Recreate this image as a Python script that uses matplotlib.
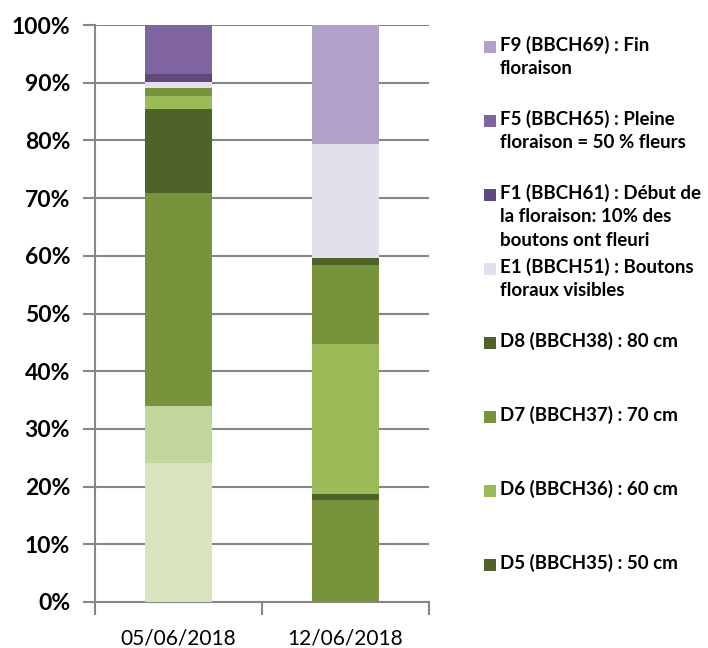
import matplotlib.pyplot as plt
import numpy as np
from matplotlib.patches import Rectangle

plt.rcParams['font.family'] = ['Lato', 'DejaVu Sans']

dates = ['05/06/2018', '12/06/2018']

# % de plantes par stade
d2 = [24.1, 0.0]
d3 = [9.9, 0.0]
d4 = [36.9, 17.6]
d5 = [14.5, 1.1]
d6 = [2.3, 26.0]
d7 = [1.4, 13.7]
d8 = [0.0, 1.2]
e1 = [1.1, 19.8]
f1 = [1.3, 0.0]
f5 = [8.5, 0.0]
f9 = [0.0, 20.6]

series = [d2, d3, d4, d5, d6, d7, d8, e1, f1, f5, f9]
labels = ['D2 (BBCH32) : 20 cm', 'D3 (BBCH33) : 30 cm', 'D4 (BBCH34) : 40 cm',
          'D5 (BBCH35) : 50 cm', 'D6 (BBCH36) : 60 cm', 'D7 (BBCH37) : 70 cm',
          'D8 (BBCH38) : 80 cm', 'E1 (BBCH51) : Boutons\nfloraux visibles',
          'F1 (BBCH61) : Début de\nla floraison: 10% des\nboutons ont fleuri',
          'F5 (BBCH65) : Pleine\nfloraison = 50 % fleurs',
          'F9 (BBCH69) : Fin\nfloraison']
colors = ['#D7E4BD', '#C3D69B', '#77933C', '#4F6228', '#9BBB59', '#77933C',
          '#4F6228', '#E4DFEC', '#604A7B', '#8064A2', '#B1A0C7']
# seules les 8 dernieres series apparaissent dans la legende
shown = labels[3:]

W, H = 708, 648
fig = plt.figure(figsize=(W / 100, H / 100), dpi=100)
ax = fig.add_axes([95 / W, 1 - 602 / H, (429 - 95) / W, (602 - 25) / H])

x = np.arange(len(dates))
bottom = np.zeros(len(dates))
for vals, c in zip(series, colors):
    ax.bar(x, vals, width=0.4, bottom=bottom, color=c, linewidth=0, zorder=3)
    bottom += np.array(vals)

ax.set_xlim(-0.5, 1.5)
ax.set_ylim(0, 100)
ax.set_yticks(np.arange(0, 101, 10))
ax.set_yticklabels(['%d%%' % v for v in range(0, 101, 10)],
                   fontsize=16.5, fontweight='bold')
ax.yaxis.grid(True, color='#868686', linewidth=1.5, zorder=0)
ax.tick_params(axis='y', length=9, width=1.5, color='#868686', pad=9)

ax.set_xticks([-0.5, 0.5, 1.5])
ax.set_xticklabels([])
ax.set_xticks(x, minor=True)
ax.set_xticklabels(dates, minor=True, fontsize=15)
ax.tick_params(axis='x', which='major', length=9, width=1.5, color='#868686')
ax.tick_params(axis='x', which='minor', length=0, pad=19)

for s in ['top', 'right']:
    ax.spines[s].set_visible(False)
for s in ['left', 'bottom']:
    ax.spines[s].set_color('#868686')
    ax.spines[s].set_linewidth(1.5)

# legende (entrees regulierement espacees, comme dans Excel)
y0, step = 47, 74
for i, (lab, c) in enumerate(zip(shown[::-1], colors[3:][::-1])):
    yc = y0 + i * step
    fig.add_artist(Rectangle((484 / W, 1 - (yc + 6) / H), 12 / W, 12 / H,
                             transform=fig.transFigure, color=c, lw=0))
    fig.text(500 / W, 1 - (yc - 11) / H, lab, fontsize=13.5, fontweight='bold',
             va='top', ha='left', linespacing=1.45)

fig.savefig('out.png', dpi=100)
